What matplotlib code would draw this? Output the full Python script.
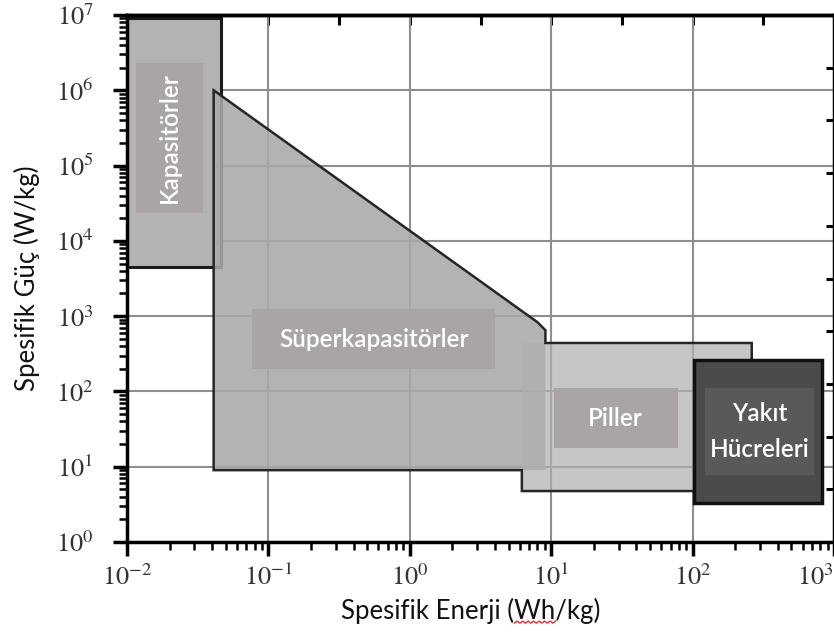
import numpy as np
import matplotlib
matplotlib.use('Agg')
import matplotlib.pyplot as plt
from matplotlib.patches import Polygon, Rectangle
from matplotlib.lines import Line2D

plt.rcParams['mathtext.fontset'] = 'stix'
plt.rcParams['font.family'] = ['Lato', 'DejaVu Sans']

# ---------------- data ----------------
region_names = ['Kapasitörler', 'Süperkapasitörler', 'Piller', 'Yakıt\nHücreleri']

kap_energy = [0.01, 0.046]          # Wh/kg
kap_power = [4.5e3, 9.0e6]          # W/kg

sc_energy = [0.041, 0.041, 8.0, 9.1, 9.1]
sc_power = [9.0, 1.0e6, 830.0, 650.0, 9.0]

bat_energy = [6.2, 262.0]
bat_power = [4.75, 440.0]

fc_energy = [102.0, 820.0]
fc_power = [3.3, 261.0]

x_ticks = [1e-2, 1e-1, 1e0, 1e1, 1e2, 1e3]
x_tick_labels = ['$10^{-2}$', '$10^{-1}$', '$10^{0}$', '$10^{1}$', '$10^{2}$', '$10^{3}$']
y_ticks = [1e0, 1e1, 1e2, 1e3, 1e4, 1e5, 1e6, 1e7]
y_tick_labels = ['$10^{0}$', '$10^{1}$', '$10^{2}$', '$10^{3}$', '$10^{4}$',
                 '$10^{5}$', '$10^{6}$', '$10^{7}$']

# label boxes (x0, x1, y0, y1) in data units
kap_box = [0.0116, 0.0345, 2.34e4, 2.3e6]
sc_box = [0.0768, 4.03, 198.0, 1242.0]
bat_box = [10.4, 78.5, 17.7, 111.0]
fc_box = [122.0, 721.0, 7.8, 111.0]

# ---------------- figure ----------------
fig = plt.figure(figsize=(8.34, 6.42), dpi=100)
ax = fig.add_axes([127 / 834, 100 / 642, 707 / 834, 527 / 642])
ax.set_xscale('log')
ax.set_yscale('log')
ax.set_xlim(1e-2, 1e3)
ax.set_ylim(1e0, 1e7)

ax.set_axisbelow(True)
ax.grid(True, which='major', color='#8e8e8e', lw=1.5)

def rect(xs, ys, **kw):
    return Rectangle((xs[0], ys[0]), xs[1] - xs[0], ys[1] - ys[0], **kw)

# capacitors
ax.add_patch(rect(kap_energy, kap_power, facecolor='#b3b3b3', edgecolor='#1a1a1a',
                  lw=2.2, zorder=2))
# supercapacitors fill
ax.add_patch(Polygon(list(zip(sc_energy, sc_power)), closed=True, facecolor='#a9a9a9',
                     alpha=0.88, edgecolor='none', zorder=3))
# batteries fill
ax.add_patch(rect(bat_energy, bat_power, facecolor='#b0b0b0', alpha=0.72,
                  edgecolor='none', zorder=4))
# union outline of supercaps + batteries
outline = list(zip(sc_energy[:-1], sc_power[:-1]))
outline += [(sc_energy[-1], bat_power[1]), (bat_energy[1], bat_power[1]),
            (bat_energy[1], bat_power[0]), (bat_energy[0], bat_power[0]),
            (bat_energy[0], sc_power[0])]
ax.add_patch(Polygon(outline, closed=True, facecolor='none', edgecolor='#262626',
                     lw=1.8, zorder=5))

# fuel cells
ax.add_patch(rect(fc_energy, fc_power, facecolor='#4b4b4b', edgecolor='#111111',
                  lw=2.5, zorder=7))

box_col = '#aaa5a5'
for b, col, z in [(kap_box, box_col, 6), (sc_box, box_col, 6), (bat_box, box_col, 6),
                  (fc_box, '#595959', 8)]:
    ax.add_patch(rect(b[:2], b[2:], facecolor=col, edgecolor='none', zorder=z))

def gmid(a, b):
    return np.sqrt(a * b)

tkw = dict(color='white', fontsize=17.5, fontweight='semibold', ha='center', va='center',
           zorder=10)
ax.text(gmid(*kap_box[:2]), gmid(*kap_box[2:]), region_names[0], rotation=90, **tkw)
ax.text(gmid(*sc_box[:2]), gmid(*sc_box[2:]), region_names[1], **tkw)
ax.text(gmid(*bat_box[:2]), gmid(*bat_box[2:]), region_names[2], **tkw)
ax.text(gmid(*fc_box[:2]), gmid(*fc_box[2:]), region_names[3], linespacing=1.65, **tkw)

# ticks
ax.set_xticks(x_ticks)
ax.set_xticklabels(x_tick_labels)
ax.set_yticks(y_ticks)
ax.set_yticklabels(y_tick_labels)
for lab in ax.get_xticklabels() + ax.get_yticklabels():
    lab.set_fontsize(19)
    lab.set_color('#333333')
ax.get_xticklabels()[-1].set_ha('right')
ax.tick_params(which='major', direction='out', length=10, width=2.5, pad=6, color='black')
ax.tick_params(which='minor', direction='out', length=6, width=1.8, color='black')
ax.tick_params(axis='y', which='major', pad=14)

for s in ax.spines.values():
    s.set_linewidth(2.5)
    s.set_color('black')

# top / right ticks (inward)
top = ax.secondary_xaxis('top')
top.set_xticks([10 ** (-2 + 0.5 * k) for k in range(11)])
top.tick_params(direction='in', length=7, width=2.2, labeltop=False)
top.xaxis.set_minor_locator(matplotlib.ticker.NullLocator())
top.spines['top'].set_linewidth(2.5)
right = ax.secondary_yaxis('right')
right.set_yticks([10 ** (0.7 * k) for k in range(10)])
right.tick_params(direction='in', length=6, width=2.2, labelright=False)
right.yaxis.set_minor_locator(matplotlib.ticker.NullLocator())

ax.set_xlabel('Spesifik Enerji (Wh/kg)', fontsize=18.5, color='#111111')
ax.set_ylabel('Spesifik Güç (W/kg)', fontsize=18.5, color='#111111')
ax.xaxis.set_label_coords((471 - 127) / 707, (542 - 598) / 527)
ax.yaxis.set_label_coords((40 - 127) / 707, 0.5)

# red spell-check squiggle under "Wh"
fig.canvas.draw()
r = fig.canvas.get_renderer()
xl = ax.xaxis.label
bb = xl.get_window_extent(r)
fp = xl.get_fontproperties()
w_pre, _, _ = r.get_text_width_height_descent('Spesifik Enerji (', fp, ismath=False)
w_wh, _, _ = r.get_text_width_height_descent('Wh', fp, ismath=False)
x0 = bb.x0 + w_pre
xs = np.linspace(x0, x0 + w_wh, 16)
ys = bb.y0 + 1 + np.array([0, 2] * 8)
fig.add_artist(Line2D(xs / fig.bbox.width, ys / fig.bbox.height, color='#e03030', lw=1.0,
                      transform=fig.transFigure))

fig.savefig('out.png', dpi=100)
